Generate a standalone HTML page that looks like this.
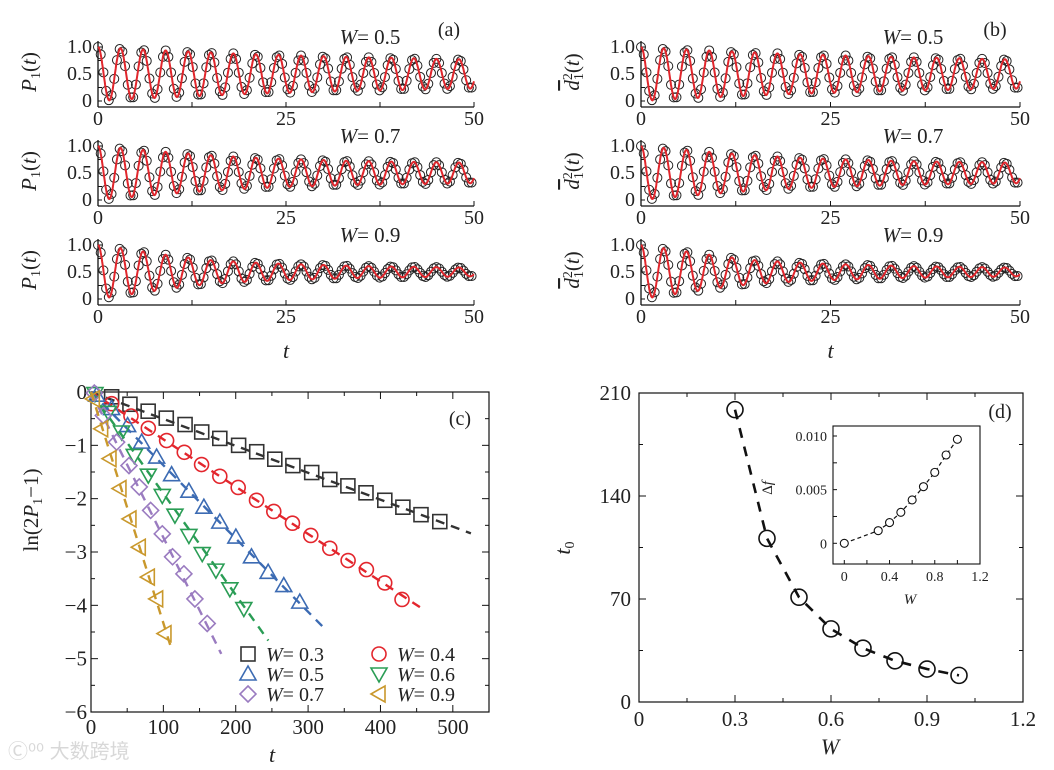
<!DOCTYPE html>
<html><head><meta charset="utf-8"><style>
html,body{margin:0;padding:0;background:#fff;}
svg{display:block;font-family:"Liberation Serif",serif;}
</style></head><body>
<svg id="fig" width="1054" height="770" viewBox="0 0 1054 770" xmlns="http://www.w3.org/2000/svg"></svg>
<script>
// ---------- data: top panels (oscillation envelope amplitudes at envT) ----------
const envT = [0,5,10,15,20,25,30,35,40,45,50];
const ampW05 = [0.5,0.46,0.43,0.40,0.37,0.35,0.33,0.31,0.30,0.28,0.27];
const ampW07 = [0.5,0.44,0.38,0.33,0.29,0.26,0.24,0.22,0.21,0.20,0.19];
const ampW09 = [0.5,0.40,0.30,0.22,0.18,0.15,0.13,0.11,0.10,0.09,0.08];
const periods = [3.0,3.0,3.0];
const wValues = ["0.5","0.7","0.9"];
const topXTicks = [0,25,50];
const topYTicks = [0,0.5,1.0];
const topYTickLabels = ["0","0.5","1.0"];
// ---------- data: panel (c) ----------
const c03t=[28.5,53.8,79,104,130,153,178,204,229,254,279,305,330,355,380,406,431,456,482];
const c03y=[-0.09,-0.23,-0.36,-0.49,-0.61,-0.75,-0.87,-1.0,-1.12,-1.26,-1.38,-1.51,-1.64,-1.76,-1.89,-2.03,-2.16,-2.3,-2.43];
const c04t=[28.5,55.2,79.2,104.5,128.9,152.8,178,203.4,228.7,252.6,278.4,303.7,330,355.3,380.6,405.9,429.8];
const c04y=[-0.22,-0.45,-0.68,-0.91,-1.13,-1.36,-1.58,-1.79,-2.03,-2.24,-2.46,-2.69,-2.93,-3.16,-3.33,-3.58,-3.89];
const c05t=[7.8,28.5,50.6,70,90.7,111.4,135.3,156,178,200.2,221.8,244.8,266.4,288.5];
const c05y=[-0.06,-0.31,-0.63,-0.94,-1.22,-1.55,-1.86,-2.16,-2.44,-2.72,-3.09,-3.38,-3.63,-3.94];
const c06t=[5.5,23.9,42.3,59.8,79.2,98.5,116,135.3,153.7,172.6,191.9,211.2];
const c06y=[-0.03,-0.38,-0.75,-1.19,-1.56,-1.94,-2.31,-2.69,-3.03,-3.34,-3.69,-4.06];
const c07t=[4.6,17,35.4,52.5,66.7,82.4,98.5,112.7,128.4,143.6,160.6];
const c07y=[-0.02,-0.44,-0.94,-1.38,-1.78,-2.22,-2.66,-3.09,-3.41,-3.88,-4.34];
const c09t=[3.2,14.7,26.2,40,53.8,66.7,79.2,90.7,102.2];
const c09y=[-0.13,-0.69,-1.25,-1.81,-2.38,-2.91,-3.47,-3.88,-4.53];
const fitEndT=[525,462,321,245,180,111];
const fitEndY=[-2.65,-4.1,-4.41,-4.66,-4.91,-4.81];
const cXTicks=[0,100,200,300,400,500];
const cYTicks=[0,-1,-2,-3,-4,-5,-6];
// ---------- data: panel (d) ----------
const dW=[0.3,0.4,0.5,0.6,0.7,0.8,0.9,1.0];
const dT0=[198.7,111.2,71.2,49.7,36.6,28,22.4,18.1];
const insetW=[0,0.3,0.4,0.5,0.6,0.7,0.8,0.9,1.0];
const insetDf=[0,0.00118,0.00193,0.00289,0.00404,0.00528,0.00661,0.00823,0.00969];
const dXTicks=[0,0.3,0.6,0.9,1.2];
const dXTickLabels=["0","0.3","0.6","0.9","1.2"];
const dYTicks=[0,70,140,210];
const insetXTicks=[0,0.4,0.8,1.2];
const insetXTickLabels=["0","0.4","0.8","1.2"];
const insetYTicks=[0,0.005,0.010];
const insetYTickLabels=["0","0.005","0.010"];

const NS="http://www.w3.org/2000/svg";
const svg=document.getElementById('fig');
function mk(tag,attrs,parent){const e=document.createElementNS(NS,tag);for(const k in attrs)e.setAttribute(k,attrs[k]);(parent||svg).appendChild(e);return e;}
function txt(s,x,y,size,anchor,parent,italic){const e=mk('text',{x:x,y:y,'font-size':size,'text-anchor':anchor||'middle',fill:'#222'},parent);if(italic)e.setAttribute('font-style','italic');e.textContent=s;return e;}
function interp(xs,ys,x){if(x<=xs[0])return ys[0];for(let i=1;i<xs.length;i++){if(x<=xs[i]){const f=(x-xs[i-1])/(xs[i]-xs[i-1]);return ys[i-1]+f*(ys[i]-ys[i-1]);}}return ys[ys.length-1];}

// ---------- top panels ----------
const amps=[ampW05,ampW07,ampW09];
const axisYs=[107,206,305];
const panels=[{x0:98,x1:474,lab:"(a)",ylab:"P",name:"panel-a"},{x0:641,x1:1020,lab:"(b)",ylab:"d",name:"panel-b"}];
panels.forEach((p,pi)=>{
  const pg=mk('g',{});
  
  
  const lb=txt(p.lab,p.x1-25,36,20,'middle',pg);
  
  
  for(let r=0;r<3;r++){
    const ay=axisYs[r];
    const g=mk('g',{},pg);
    
    
    const sx=t=>p.x0+(t/50)*(p.x1-p.x0);
    const sy=v=>ay-6-v*54;
    const xa=mk('line',{x1:p.x0,y1:ay,x2:p.x1,y2:ay,stroke:'#111','stroke-width':1.3},g);
    
    
    const ya=mk('line',{x1:p.x0,y1:ay-66,x2:p.x0,y2:ay,stroke:'#111','stroke-width':1.3},g);
    
    
    for(let t=0;t<=50;t+=12.5){mk('line',{x1:sx(t),y1:ay,x2:sx(t),y2:ay-5,stroke:'#111','stroke-width':1},g);}
    for(let v=0;v<=1.001;v+=0.25){mk('line',{x1:p.x0,y1:sy(v),x2:p.x0+4,y2:sy(v),stroke:'#111','stroke-width':1},g);}
    topXTicks.forEach(t=>{const e=txt(String(t),sx(t),ay+18,20,'middle',g);});
    topYTicks.forEach((v,i)=>{const e=txt(topYTickLabels[i],p.x0-6,sy(v)+6,20,'end',g);});
    const per=periods[r];
    const f=t=>0.5+interp(envT,amps[r],t)*Math.cos(2*Math.PI*t/per);
    for(let t=0;t<=50.01;t+=0.36){const c=mk('circle',{cx:sx(t),cy:sy(f(t)),r:4.5,fill:'none',stroke:'#222','stroke-width':1},g);}
    let d='';for(let t=0;t<=50.001;t+=0.05){d+=(d?'L':'M')+sx(t).toFixed(1)+','+sy(f(t)).toFixed(1);}
    const pl=mk('path',{d:d,fill:'none',stroke:'#e0262c','stroke-width':2},g);
    
    
    const wl=mk('text',{x:p.x0+272,y:ay-63,'font-size':21,'text-anchor':'middle',fill:'#222'},g);
    
    
    wl.innerHTML='<tspan font-style="italic">W</tspan>= '+wValues[r];
    const yl=mk('text',{x:0,y:0,'font-size':21,'text-anchor':'middle',fill:'#222',transform:`translate(${p.x0-62},${ay-35}) rotate(-90)`},g);
    
    
    if(p.ylab==="P"){yl.innerHTML='<tspan font-style="italic">P</tspan><tspan font-size="14" dy="4">1</tspan><tspan dy="-4">(</tspan><tspan font-style="italic">t</tspan>)';}
    else{yl.innerHTML='<tspan font-style="italic" text-decoration="overline">d</tspan><tspan font-size="14" dy="4">1</tspan><tspan font-size="14" dy="-11" dx="-7">2</tspan><tspan dy="7">(</tspan><tspan font-style="italic">t</tspan>)';}
  }
  const xt=txt('t',(p.x0+p.x1)/2,358,22,'middle',pg,true);
  
  
});

// ---------- panel (c) ----------
(function(){
  const g=mk('g',{});
  
  
  const L=91,R=489,T=392,B=712;
  const sx=t=>L+t/550*(R-L), sy=v=>T+(-v)/6*(B-T);
  const box=mk('rect',{x:L,y:T,width:R-L,height:B-T,fill:'none',stroke:'#111','stroke-width':1.2},g);
  
  
  for(let t=0;t<=550;t+=50){const l=(t%100===0)?7:4;mk('line',{x1:sx(t),y1:B,x2:sx(t),y2:B-l,stroke:'#111'},g);mk('line',{x1:sx(t),y1:T,x2:sx(t),y2:T+l,stroke:'#111'},g);}
  for(let v=0;v>=-6;v-=0.5){const l=(v%1===0)?7:4;mk('line',{x1:L,y1:sy(v),x2:L+l,y2:sy(v),stroke:'#111'},g);mk('line',{x1:R,y1:sy(v),x2:R-l,y2:sy(v),stroke:'#111'},g);}
  cXTicks.forEach(t=>{const e=txt(String(t),sx(t),B+22,21,'middle',g);});
  cYTicks.forEach(v=>{const e=txt(v===0?'0':'\u2212'+(-v),L-4,sy(v)+7,21,'end',g);});
  const colors=['#333333','#e3262d','#3c6bb3','#2a9d55','#9a7bc0','#c9982c'];
  const ts=[c03t,c04t,c05t,c06t,c07t,c09t], ys=[c03y,c04y,c05y,c06y,c07y,c09y];
  const shapes=['sq','ci','tu','td','di','tl'];
  const labels=['0.3','0.4','0.5','0.6','0.7','0.9'];
  function marker(shape,x,y,col,parent){
    const s=7;let e;
    if(shape==='sq')e=mk('rect',{x:x-s,y:y-s,width:2*s,height:2*s,fill:'none',stroke:col,'stroke-width':1.6},parent);
    else if(shape==='ci')e=mk('circle',{cx:x,cy:y,r:7,fill:'none',stroke:col,'stroke-width':1.6},parent);
    else if(shape==='tu')e=mk('polygon',{points:`${x},${y-8} ${x-8},${y+6} ${x+8},${y+6}`,fill:'none',stroke:col,'stroke-width':1.6},parent);
    else if(shape==='td')e=mk('polygon',{points:`${x},${y+8} ${x-8},${y-6} ${x+8},${y-6}`,fill:'none',stroke:col,'stroke-width':1.6},parent);
    else if(shape==='di')e=mk('polygon',{points:`${x},${y-8} ${x+8},${y} ${x},${y+8} ${x-8},${y}`,fill:'none',stroke:col,'stroke-width':1.6},parent);
    else e=mk('polygon',{points:`${x-8},${y} ${x+6},${y-8} ${x+6},${y+8}`,fill:'none',stroke:col,'stroke-width':1.6},parent);
    return e;
  }
  for(let s=0;s<6;s++){
    const sg=mk('g',{},g);
    
    
    ts[s].forEach((t,i)=>{const m=marker(shapes[s],sx(t),sy(ys[s][i]),colors[s],sg);});
    const fl=mk('line',{x1:sx(0),y1:sy(0),x2:sx(fitEndT[s]),y2:sy(fitEndY[s]),stroke:colors[s],'stroke-width':2.4,'stroke-dasharray':'9,7'},sg);
    
    
  }
  const lg=mk('g',{},g);
  
  
  [0,1,2,3,4,5].forEach((s,k)=>{
    const col=k%2, row=Math.floor(k/2);
    const mx=col===0?248:379, my=654+row*20;
    const le=mk('g',{},lg);
    
    
    marker(shapes[s],mx,my,colors[s],le);
    const t=mk('text',{x:mx+18,y:my+7,'font-size':20,fill:'#222'},le);
    t.innerHTML='<tspan font-style="italic">W</tspan>= '+labels[s];
  });
  const cl=txt('(c)',460,425,20,'middle',g);
  
  
  const xt=txt('t',272,762,22,'middle',g,true);
  
  
  const yl=mk('text',{'font-size':21,'text-anchor':'middle',fill:'#222',transform:'translate(38,510) rotate(-90)'},g);
  
  
  yl.innerHTML='ln(2<tspan font-style="italic">P</tspan><tspan font-size="14" dy="4">1</tspan><tspan dy="-4">\u22121)</tspan>';
})();

// ---------- panel (d) ----------
(function(){
  const g=mk('g',{});
  
  
  const L=639,R=1023,T=393,B=702;
  const sx=w=>L+w/1.2*(R-L), sy=v=>B-v/210*(B-T);
  const box=mk('rect',{x:L,y:T,width:R-L,height:B-T,fill:'none',stroke:'#111','stroke-width':1.2},g);
  
  
  for(let w=0;w<=1.2001;w+=0.15){const l=(Math.round(w/0.15)%2===0)?7:4;mk('line',{x1:sx(w),y1:B,x2:sx(w),y2:B-l,stroke:'#111'},g);mk('line',{x1:sx(w),y1:T,x2:sx(w),y2:T+l,stroke:'#111'},g);}
  for(let v=0;v<=210;v+=35){const l=(v%70===0)?7:4;mk('line',{x1:L,y1:sy(v),x2:L+l,y2:sy(v),stroke:'#111'},g);mk('line',{x1:R,y1:sy(v),x2:R-l,y2:sy(v),stroke:'#111'},g);}
  dXTicks.forEach((w,i)=>{const e=txt(dXTickLabels[i],sx(w),B+24,21,'middle',g);});
  dYTicks.forEach(v=>{const e=txt(String(v),L-8,sy(v)+7,21,'end',g);});
  let d='';dW.forEach((w,i)=>{d+=(i?'L':'M')+sx(w)+','+sy(dT0[i]);});
  const cu=mk('path',{d:d,fill:'none',stroke:'#111','stroke-width':2.6,'stroke-dasharray':'10,9'},g);
  
  
  dW.forEach((w,i)=>{const c=mk('circle',{cx:sx(w),cy:sy(dT0[i]),r:8,fill:'none',stroke:'#111','stroke-width':1.6},g);});
  const dl=txt('(d)',1000,418,20,'middle',g);
  
  
  const xt=txt('W',830,754,22,'middle',g,true);
  
  
  const yl=mk('text',{'font-size':22,'text-anchor':'middle',fill:'#222',transform:'translate(570,548) rotate(-90)'},g);
  
  
  yl.innerHTML='<tspan font-style="italic">t</tspan><tspan font-size="14" dy="4">0</tspan>';
  const ig=mk('g',{},g);
  
  
  const iL=833,iR=980,iT=426,iB=564;
  const ix=w=>844.3+w/1.2*(980-844.3), iy=v=>543.3-v/0.01*(543.3-436);
  const ib=mk('rect',{x:iL,y:iT,width:iR-iL,height:iB-iT,fill:'#fff',stroke:'#111','stroke-width':1.1},ig);
  
  
  for(let w=0;w<=1.2001;w+=0.2){mk('line',{x1:ix(w),y1:iB,x2:ix(w),y2:iB-4,stroke:'#111'},ig);}
  for(let v=0;v<=0.0101;v+=0.0025){mk('line',{x1:iL,y1:iy(v),x2:iL+4,y2:iy(v),stroke:'#111'},ig);}
  insetXTicks.forEach((w,i)=>{const e=txt(insetXTickLabels[i],ix(w),iB+17,14,'middle',ig);});
  insetYTicks.forEach((v,i)=>{const e=txt(insetYTickLabels[i],iL-6,iy(v)+5,14,'end',ig);});
  let d2='';insetW.forEach((w,i)=>{d2+=(i?'L':'M')+ix(w)+','+iy(insetDf[i]);});
  const ic=mk('path',{d:d2,fill:'none',stroke:'#111','stroke-width':1.2,'stroke-dasharray':'4,3'},ig);
  
  
  insetW.forEach((w,i)=>{const c=mk('circle',{cx:ix(w),cy:iy(insetDf[i]),r:4,fill:'#fff',stroke:'#111','stroke-width':1.1},ig);});
  const iw=txt('W',910,604,15,'middle',ig,true);
  
  
  const idf=mk('text',{'font-size':15,'text-anchor':'middle',fill:'#222',transform:'translate(772,488) rotate(-90)'},ig);
  
  
  idf.innerHTML='\u0394<tspan font-style="italic">f</tspan>';
})();

const wm=mk('text',{x:8,y:758,'font-size':20,fill:'#d8d8d8','font-family':'"Liberation Sans","Noto Sans CJK SC",sans-serif'});


wm.textContent='Ⓒ⁰⁰ 大数跨境';
</script>
</body></html>
